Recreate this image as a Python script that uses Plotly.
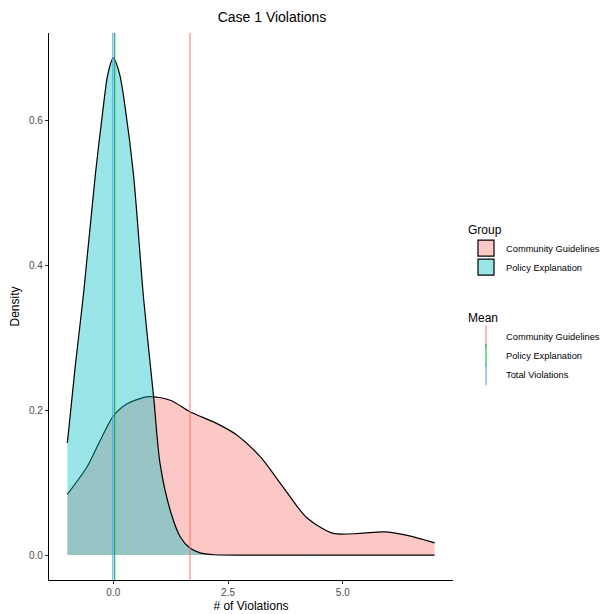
import plotly.graph_objects as go

# ---- data ----
pe_x = [-1.0, -0.83, -0.65, -0.39, -0.22, -0.12, 0.0, 0.14, 0.26, 0.44, 0.66, 0.88, 1.02, 1.24, 1.46, 1.67, 1.89, 2.2, 3.0, 7.0]
pe_d = [0.155, 0.26, 0.36, 0.526, 0.618, 0.664, 0.687, 0.664, 0.618, 0.526, 0.355, 0.218, 0.126, 0.062, 0.025, 0.0097, 0.003, 0.0005, 0.0, 0.0]

cg_x = [-1.0, -0.57, -0.28, 0.0, 0.3, 0.77, 1.24, 1.67, 2.25, 2.69, 3.2, 3.7, 4.21, 4.79, 5.37, 5.9, 6.38, 7.0]
cg_d = [0.084, 0.122, 0.159, 0.192, 0.209, 0.219, 0.214, 0.198, 0.182, 0.166, 0.136, 0.094, 0.052, 0.030, 0.030, 0.032, 0.0276, 0.017]

group_names = ["Community Guidelines", "Policy Explanation"]
mean_names = ["Community Guidelines", "Policy Explanation", "Total Violations"]
mean_values = [1.67, 0.03, -0.01]

x_ticks = [0.0, 2.5, 5.0]
y_ticks = [0.0, 0.2, 0.4, 0.6]

group_colors = ["rgba(248,118,109,0.4)", "rgba(0,191,196,0.4)"]
mean_colors = ["rgba(248,118,109,0.85)", "rgba(0,186,56,0.9)", "rgba(97,156,255,0.9)"]

x_range = [-1.4, 7.4]
y_range = [-0.0344, 0.7214]

W, H = 600, 606  # page has an 8px body margin

fig = go.Figure()
for name, xs, ds, fc in zip(group_names, [cg_x, pe_x], [cg_d, pe_d], group_colors):
    fig.add_trace(go.Scatter(
        x=xs, y=ds, mode="lines", name=name, fill="tozeroy", fillcolor=fc,
        line=dict(color="black", width=1.2, shape="spline", smoothing=0.8),
        showlegend=False,
    ))

for name, m, c in zip(mean_names, mean_values, mean_colors):
    fig.add_trace(go.Scatter(
        x=[m, m], y=y_range, mode="lines", name=name, showlegend=False,
        line=dict(color=c, width=1.2), hoverinfo="skip",
    ))

# legend keys
for name, fc in zip(group_names, group_colors):
    fig.add_trace(go.Scatter(
        x=[None], y=[None], mode="markers", name=name,
        marker=dict(symbol="square", size=18, color=fc, line=dict(color="black", width=1.2)),
        legend="legend",
    ))
for name, c in zip(mean_names, mean_colors):
    fig.add_trace(go.Scatter(
        x=[None], y=[None], mode="markers", name=name,
        marker=dict(symbol="line-ns-open", size=20, color=c, line=dict(color=c, width=1.2)),
        legend="legend2",
    ))

tick_font = dict(family="Liberation Sans, Arial", size=10, color="#4D4D4D")
fig.update_layout(
    width=W, height=H,
    margin=dict(l=41, r=155, t=25, b=34, autoexpand=False),
    paper_bgcolor="white", plot_bgcolor="white",
    font=dict(family="Liberation Sans, Arial", color="black"),
    title=dict(text="Case 1 Violations", x=264/W, xanchor="center", xref="container",
               y=1-4/H, yanchor="top", yref="container", pad=dict(t=0, b=0),
               font=dict(size=14, color="black")),
    xaxis=dict(range=x_range, tickvals=x_ticks, ticktext=["0.0", "2.5", "5.0"],
               showgrid=False, zeroline=False, showline=True, linecolor="black", linewidth=1.2,
               ticks="outside", ticklen=3, tickcolor="#333333", tickfont=tick_font,
               title=dict(text="# of Violations", font=dict(size=12), standoff=4)),
    yaxis=dict(range=y_range, tickvals=y_ticks, ticktext=["0.0", "0.2", "0.4", "0.6"],
               showgrid=False, zeroline=False, showline=True, linecolor="black", linewidth=1.2,
               ticks="outside", ticklen=3, tickcolor="#333333", tickfont=tick_font,
               title=dict(text="Density", font=dict(size=12), standoff=8)),
    legend=dict(title=dict(text="Group", font=dict(size=12)), font=dict(size=9.3),
                xref="container", yref="container", x=458/W, y=1-210/H,
                xanchor="left", yanchor="top", bgcolor="rgba(0,0,0,0)"),
    legend2=dict(title=dict(text="Mean", font=dict(size=12)), font=dict(size=9.3),
                 xref="container", yref="container", x=458/W, y=1-298/H,
                 xanchor="left", yanchor="top", bgcolor="rgba(0,0,0,0)"),
    showlegend=True,
)

fig.write_html("out.html")
